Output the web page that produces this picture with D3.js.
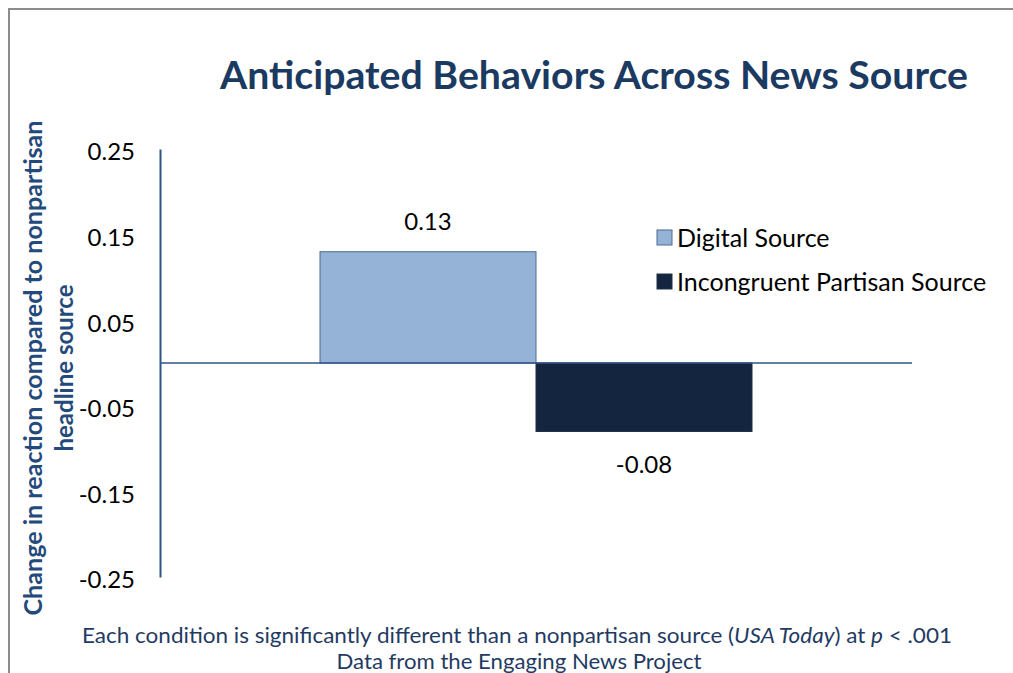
<!DOCTYPE html>
<html>
<head>
<meta charset="utf-8">
<script src="https://cdn.jsdelivr.net/npm/d3@7"></script>
<style>
  body { margin: 0; background: #fff; }
  svg { display: block; }
</style>
</head>
<body>
<div id="chart"></div>
<script>
// data
const categories = ["Anticipated behaviors"];
const seriesNames = ["Digital Source", "Incongruent Partisan Source"];
const seriesValues = [0.13, -0.08];
const seriesColors = ["#95b3d7", "#14263f"];
const yTicks = [0.25, 0.15, 0.05, -0.05, -0.15, -0.25];

const width = 1013, height = 673;
const font = "Lato, 'Open Sans', sans-serif";
const navy = "#1b3a62";
const fmt = v => d3.format(".2f")(v).replace("\u2212", "-");

const svg = d3.select("#chart").append("svg")
  .attr("width", width).attr("height", height);

// outer frame (only left and top edges visible)
svg.append("path")
  .attr("d", `M9,${height} V9 H${width}`)
  .attr("fill", "none").attr("stroke", "#8c8c8c").attr("stroke-width", 2);

// scales
const y = d3.scaleLinear().domain([-0.25, 0.25]).range([577, 149]);
const x0 = d3.scaleBand().domain(categories).range([160, 912]);
const groupPad = 160;
const x1 = d3.scaleBand().domain(seriesNames)
  .range([x0(categories[0]) + groupPad, x0(categories[0]) + x0.bandwidth() - groupPad]);

// title
svg.append("text")
  .attr("x", 594).attr("y", 89)
  .attr("text-anchor", "middle")
  .attr("font-family", font).attr("font-weight", 700)
  .attr("font-size", 39).attr("fill", navy)
  .attr("textLength", 748).attr("lengthAdjust", "spacingAndGlyphs")
  .text("Anticipated Behaviors Across News Source");

// y axis
const yAxis = svg.append("g")
  .attr("transform", "translate(160,0)")
  .call(d3.axisLeft(y).tickValues(yTicks).tickSize(0).tickPadding(25)
    .tickFormat(fmt));
yAxis.select(".domain").attr("stroke", "#2f5485").attr("stroke-width", 2);
yAxis.selectAll("text")
  .attr("font-family", font).attr("font-size", 24).attr("fill", "#000")
  .attr("dy", "0.45em");

// bars
const bars = svg.append("g");
seriesNames.forEach((name, i) => {
  const v = seriesValues[i];
  bars.append("rect")
    .attr("x", x1(name))
    .attr("width", x1.bandwidth())
    .attr("y", y(Math.max(0, v)))
    .attr("height", Math.abs(y(v) - y(0)))
    .attr("fill", seriesColors[i])
    .attr("stroke", i === 0 ? "#4d6b8f" : "#1e3048")
    .attr("stroke-width", 1);

  bars.append("text")
    .attr("x", x1(name) + x1.bandwidth() / 2)
    .attr("y", v >= 0 ? y(v) - 22 : y(v) + 42)
    .attr("text-anchor", "middle")
    .attr("font-family", font).attr("font-size", 24).attr("fill", "#000")
    .text(fmt(v));
});

// zero line
svg.append("line")
  .attr("x1", 160).attr("x2", 912)
  .attr("y1", y(0)).attr("y2", y(0))
  .attr("stroke", "#2f5485").attr("stroke-width", 1.5);

// y axis title
const yTitle = svg.append("text")
  .attr("transform", "translate(42,368) rotate(-90)")
  .attr("text-anchor", "middle")
  .attr("font-family", font).attr("font-weight", 700)
  .attr("font-size", 24).attr("fill", "#244a7c");
yTitle.append("tspan").attr("x", 0).attr("y", 0)
  .attr("textLength", 495).attr("lengthAdjust", "spacingAndGlyphs")
  .text("Change in reaction compared to nonpartisan");
yTitle.append("tspan").attr("x", 0).attr("y", 31)
  .text("headline source");

// legend
const legend = svg.append("g").attr("transform", "translate(657,238)");
seriesNames.forEach((name, i) => {
  const g = legend.append("g").attr("transform", `translate(0,${i * 44})`);
  g.append("rect")
    .attr("x", 0).attr("y", -8).attr("width", 15).attr("height", 15)
    .attr("fill", seriesColors[i])
    .attr("stroke", i === 0 ? "#4d6b8f" : "#1e3048");
  g.append("text")
    .attr("x", 20).attr("y", 0).attr("dy", "0.35em")
    .attr("font-family", font).attr("font-size", 25).attr("fill", "#000")
    .text(name);
});

// footnotes
const note = svg.append("text")
  .attr("x", 517).attr("y", 643)
  .attr("text-anchor", "middle")
  .attr("font-family", font).attr("font-size", 21).attr("fill", "#1f3b63")
  .attr("textLength", 870).attr("lengthAdjust", "spacingAndGlyphs");
note.append("tspan").text("Each condition is significantly different than a nonpartisan source (");
note.append("tspan").attr("font-style", "italic").text("USA Today");
note.append("tspan").text(") at ");
note.append("tspan").attr("font-style", "italic").text("p");
note.append("tspan").text(" < .001");

svg.append("text")
  .attr("x", 519).attr("y", 669)
  .attr("text-anchor", "middle")
  .attr("font-family", font).attr("font-size", 21).attr("fill", "#1f3b63")
  .attr("textLength", 365).attr("lengthAdjust", "spacingAndGlyphs")
  .text("Data from the Engaging News Project");
</script>
</body>
</html>
